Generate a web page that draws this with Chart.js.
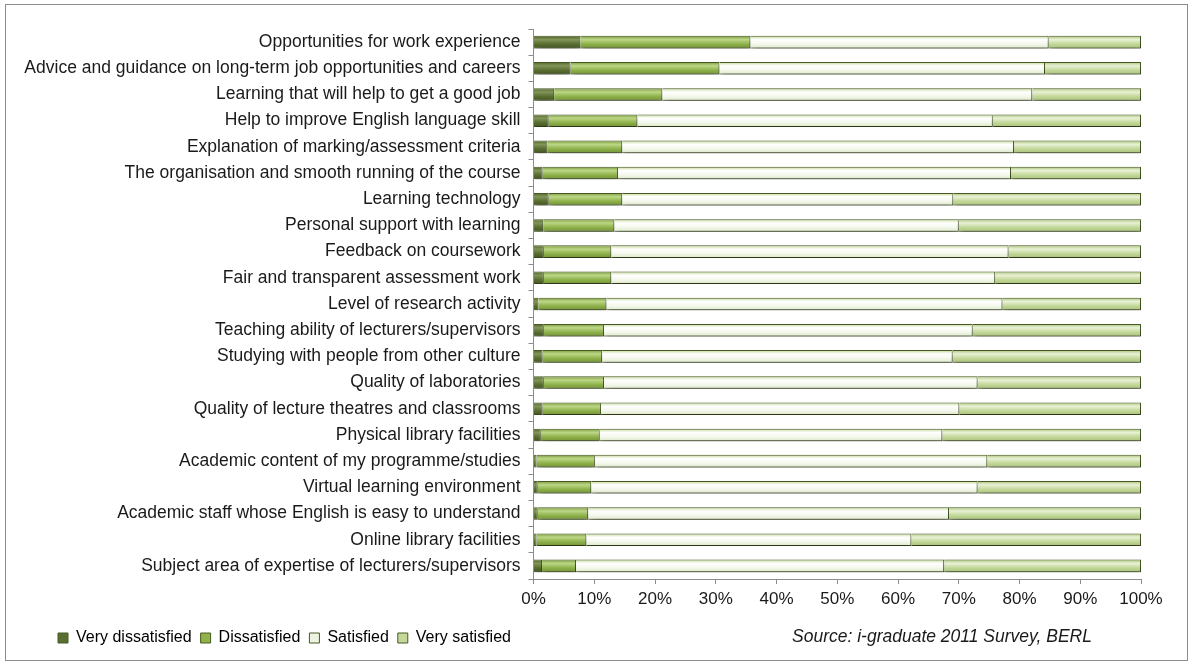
<!DOCTYPE html>
<html>
<head>
<meta charset="utf-8">
<script src="https://cdn.jsdelivr.net/npm/chart.js@4.4.1/dist/chart.umd.min.js"></script>
<style>
  body { margin: 0; background: #fff; }
  #frame { position: absolute; left: 5px; top: 4px; width: 1183px; height: 657px;
           border: 1px solid #8c8c8c; box-sizing: border-box; background: #fff; }
</style>
</head>
<body>
<div id="frame"><canvas id="myChart"></canvas></div>
<script>
const categorias = [
  "Opportunities for work experience",
  "Advice and guidance on long-term job opportunities and careers",
  "Learning that will help to get a good job",
  "Help to improve English language skill",
  "Explanation of marking/assessment criteria",
  "The organisation and smooth running of the course",
  "Learning technology",
  "Personal support with learning",
  "Feedback on coursework",
  "Fair and transparent assessment work",
  "Level of research activity",
  "Teaching ability of lecturers/supervisors",
  "Studying with people from other culture",
  "Quality of laboratories",
  "Quality of lecture theatres and classrooms",
  "Physical library facilities",
  "Academic content of my programme/studies",
  "Virtual learning environment",
  "Academic staff whose English is easy to understand",
  "Online library facilities",
  "Subject area of expertise of lecturers/supervisors"
];
const muyInsatisfecho = [7.7, 6.1, 3.4, 2.5, 2.3, 1.5, 2.5, 1.6, 1.7, 1.7, 0.8, 1.7, 1.5, 1.7, 1.5, 1.2, 0.5, 0.7, 0.7, 0.5, 1.4];
const insatisfecho    = [28.0, 24.5, 17.8, 14.6, 12.3, 12.4, 12.1, 11.7, 11.1, 11.1, 11.2, 9.9, 9.8, 9.9, 9.6, 9.7, 9.6, 8.8, 8.3, 8.2, 5.6];
const satisfecho      = [49.1, 53.6, 60.9, 58.5, 64.5, 64.7, 54.5, 56.7, 65.4, 63.2, 65.2, 60.7, 57.7, 61.5, 59.0, 56.4, 64.6, 63.6, 59.4, 53.5, 60.6];
const muySatisfecho   = [15.2, 15.8, 17.9, 24.4, 20.9, 21.4, 30.9, 30.0, 21.8, 24.0, 22.8, 27.7, 31.0, 26.9, 29.9, 32.7, 25.3, 26.9, 31.6, 37.8, 32.4];
const ticksX = [0, 10, 20, 30, 40, 50, 60, 70, 80, 90, 100];
const fuente = "Source: i-graduate 2011 Survey, BERL";

const barPct = 0.48;
const familia = '"Liberation Sans", Arial, sans-serif';

// degradado vertical para cada barra
const gradiente = (c0, c1, c2, c3) => (ctx) => {
  const chart = ctx.chart;
  const y = chart.scales && chart.scales.y;
  if (ctx.type !== 'data' || !y || !y.height) return c2;
  const yc = y.getPixelForValue(ctx.dataIndex);
  const half = y.height / categorias.length * barPct / 2;
  const g = chart.ctx.createLinearGradient(0, yc - half, 0, yc + half);
  g.addColorStop(0, c0);
  g.addColorStop(0.3, c1);
  g.addColorStop(0.65, c2);
  g.addColorStop(1, c3);
  return g;
};

const sombra = {
  id: 'sombra',
  beforeDatasetsDraw(chart) {
    const c = chart.ctx;
    c.save();
    c.shadowColor = 'rgba(0,0,0,0.45)';
    c.shadowBlur = 6;
    c.shadowOffsetX = 1;
    c.shadowOffsetY = 5;
  },
  afterDatasetsDraw(chart) {
    chart.ctx.restore();
  }
};

// mover la leyenda a la derecha sin tocar el eje y
const moverLeyenda = {
  id: 'moverLeyenda',
  afterLayout(chart) {
    chart.legend.left += 43;
  }
};

const textoFuente = {
  id: 'textoFuente',
  afterDraw(chart) {
    const c = chart.ctx;
    c.save();
    c.font = 'italic 17.5px ' + familia;
    c.fillStyle = '#1a1a1a';
    c.textAlign = 'center';
    c.textBaseline = 'middle';
    c.fillText(fuente, 936, 632);
    c.restore();
  }
};

const borde = '#485a22';

const datasets = [
  { label: "Very dissatisfied", data: muyInsatisfecho,
    backgroundColor: gradiente('#4f6127', '#82965a', '#5a6e31', '#445522'), legendColor: '#5a6e31' },
  { label: "Dissatisfied", data: insatisfecho,
    backgroundColor: gradiente('#7a9a3a', '#bcd787', '#8fb24b', '#739236'), legendColor: '#8fb24b' },
  { label: "Satisfied", data: satisfecho,
    backgroundColor: gradiente('#c2d898', '#ffffff', '#f4f8ec', '#dbe7c6'), legendColor: '#eef4e2' },
  { label: "Very satisfied", data: muySatisfecho,
    backgroundColor: gradiente('#aac577', '#e9f1d6', '#c3d899', '#a9c27a'), legendColor: '#c3d899' }
].map(d => Object.assign(d, { borderColor: borde, borderWidth: 1, barPercentage: barPct, categoryPercentage: 1 }));

new Chart(document.getElementById('myChart'), {
  type: 'bar',
  data: { labels: categorias, datasets },
  plugins: [sombra, moverLeyenda, textoFuente],
  options: {
    indexAxis: 'y',
    responsive: true,
    maintainAspectRatio: false,
    animation: false,
    layout: { padding: { top: 24, left: 0, right: 46, bottom: 4 } },
    plugins: {
      tooltip: { enabled: false },
      legend: {
        position: 'bottom',
        align: 'start',
        labels: {
          boxWidth: 10, boxHeight: 10, padding: 9,
          color: '#1a1a1a',
          font: { family: familia, size: 16 },
          generateLabels: (chart) => chart.data.datasets.map((d, i) => ({
            text: d.label, fillStyle: d.legendColor, strokeStyle: borde, lineWidth: 1, datasetIndex: i
          }))
        }
      }
    },
    scales: {
      x: {
        stacked: true, min: 0, max: 100,
        afterBuildTicks: s => { s.ticks = ticksX.map(v => ({ value: v })); },
        ticks: { callback: v => v + '%', color: '#1a1a1a', padding: 5,
                 font: { family: familia, size: 17 } },
        grid: { drawOnChartArea: false, color: '#8c8c8c', tickLength: 5 },
        border: { color: '#8c8c8c' },
        afterFit: s => { s.height = 42; }
      },
      y: {
        stacked: true,
        ticks: { color: '#1a1a1a', padding: 8, autoSkip: false,
                 font: { family: familia, size: 17.5 } },
        grid: { drawOnChartArea: false, color: '#8c8c8c', tickLength: 5, offset: true },
        border: { color: '#8c8c8c' },
        afterFit: s => { s.width = 527.5; }
      }
    }
  }
});
</script>
</body>
</html>
